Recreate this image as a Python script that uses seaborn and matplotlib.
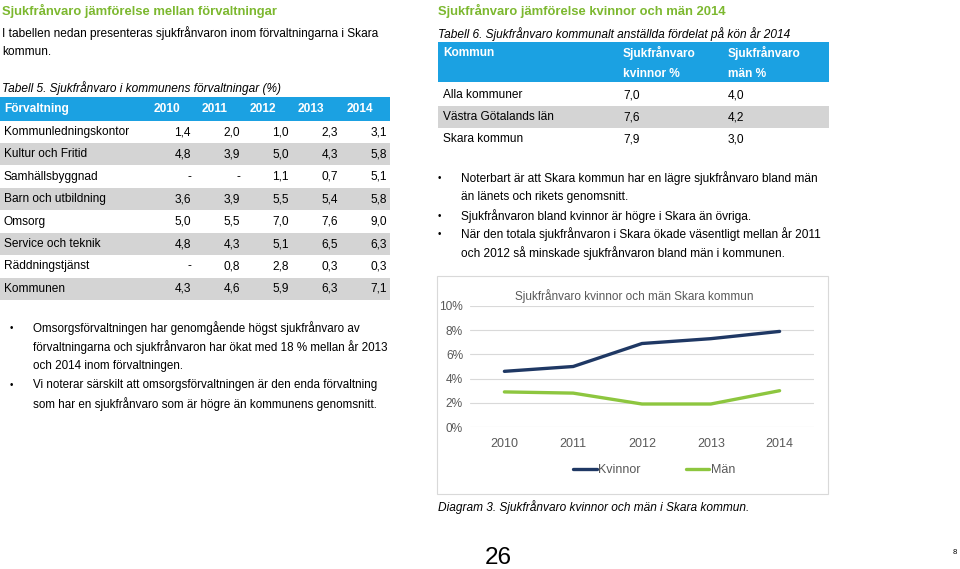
import pandas as pd
import matplotlib.pyplot as plt
from matplotlib.patches import Rectangle
import seaborn as sns

sns.set_theme(style='white')
plt.rcParams['font.family'] = ['Liberation Sans', 'DejaVu Sans']

# colours
GREEN = '#7cb82f'
BLUE = '#1ba1e2'
BAND = '#d4d4d4'
NAVY = '#1f3864'
LIME = '#8dc63f'
AXIS_TXT = '#595959'

# Tabell 5
years = [2010, 2011, 2012, 2013, 2014]
departments = ['Kommunledningskontor', 'Kultur och Fritid', 'Samhällsbyggnad',
               'Barn och utbildning', 'Omsorg', 'Service och teknik',
               'Räddningstjänst', 'Kommunen']
dept_values = [
    [1.4, 2.0, 1.0, 2.3, 3.1],
    [4.8, 3.9, 5.0, 4.3, 5.8],
    [None, None, 1.1, 0.7, 5.1],
    [3.6, 3.9, 5.5, 5.4, 5.8],
    [5.0, 5.5, 7.0, 7.6, 9.0],
    [4.8, 4.3, 5.1, 6.5, 6.3],
    [None, 0.8, 2.8, 0.3, 0.3],
    [4.3, 4.6, 5.9, 6.3, 7.1],
]

# Tabell 6
regions = ['Alla kommuner', 'Västra Götalands län', 'Skara kommun']
women_2014 = [7.0, 7.6, 7.9]
men_2014 = [4.0, 4.2, 3.0]

# Diagram 3
chart_years = [2010, 2011, 2012, 2013, 2014]
kvinnor = [4.6, 5.0, 6.9, 7.3, 7.9]
man = [2.9, 2.8, 1.9, 1.9, 3.0]

left_bullets = [
    ['Omsorgsförvaltningen har genomgående högst sjukfrånvaro av',
     'förvaltningarna och sjukfrånvaron har ökat med 18 % mellan år 2013',
     'och 2014 inom förvaltningen.'],
    ['Vi noterar särskilt att omsorgsförvaltningen är den enda förvaltning',
     'som har en sjukfrånvaro som är högre än kommunens genomsnitt.'],
]
right_bullets = [
    ['Noterbart är att Skara kommun har en lägre sjukfrånvaro bland män',
     'än länets och rikets genomsnitt.'],
    ['Sjukfrånvaron bland kvinnor är högre i Skara än övriga.'],
    ['När den totala sjukfrånvaron i Skara ökade väsentligt mellan år 2011',
     'och 2012 så minskade sjukfrånvaron bland män i kommunen.'],
]


def fmt(v):
    return '-' if v is None else f'{v:.1f}'.replace('.', ',')


fig = plt.figure(figsize=(9.6, 5.69), dpi=100)
page = fig.add_axes([0, 0, 1, 1])
page.set_xlim(0, 960)
page.set_ylim(569, 0)
page.axis('off')

FS = 8.6


def txt(x, y, s, **kw):
    kw.setdefault('fontsize', FS)
    kw.setdefault('va', 'center')
    kw.setdefault('color', 'black')
    page.text(x, y, s, **kw)


def bullets(x, y, groups, step=19.2, fs=FS):
    for g in groups:
        txt(x, y, '•', fontsize=7)
        for line in g:
            txt(x + 23, y, line, fontsize=fs)
            y += step


# ---- left column ----
txt(2, 11, 'Sjukfrånvaro jämförelse mellan förvaltningar', color=GREEN,
    fontweight='bold', fontsize=9.4)
txt(2, 33, 'I tabellen nedan presenteras sjukfrånvaron inom förvaltningarna i Skara')
txt(2, 52, 'kommun.')
txt(2, 88, 'Tabell 5. Sjukfrånvaro i kommunens förvaltningar (%)', style='italic')

page.add_patch(Rectangle((0, 97), 390, 24, color=BLUE, lw=0))
txt(4, 109, 'Förvaltning', color='white', fontweight='bold')
year_centres = [167, 215, 263, 311, 360]
for xc, yr in zip(year_centres, years):
    txt(xc, 109, str(yr), color='white', fontweight='bold', ha='center')

right_edges = [191, 240, 289, 338, 387]
row_y = 132
for i, (name, vals) in enumerate(zip(departments, dept_values)):
    if i % 2 == 1:
        page.add_patch(Rectangle((0, row_y - 11), 390, 22, color=BAND, lw=0))
    txt(4, row_y, name)
    for xr, v in zip(right_edges, vals):
        txt(xr, row_y, fmt(v), ha='right')
    row_y += 22.4

bullets(10, 328, left_bullets, step=19, fs=8.4)

# ---- right column ----
txt(438, 11, 'Sjukfrånvaro jämförelse kvinnor och män 2014', color=GREEN,
    fontweight='bold', fontsize=9.4)
txt(438, 34, 'Tabell 6. Sjukfrånvaro kommunalt anställda fördelat på kön år 2014',
    style='italic')
page.add_patch(Rectangle((438, 42), 391, 40, color=BLUE, lw=0))
txt(443, 53, 'Kommun', color='white', fontweight='bold')
txt(623, 53, 'Sjukfrånvaro', color='white', fontweight='bold')
txt(623, 74, 'kvinnor %', color='white', fontweight='bold')
txt(728, 53, 'Sjukfrånvaro', color='white', fontweight='bold')
txt(728, 74, 'män %', color='white', fontweight='bold')
ry = 95
for i, (reg, w, m) in enumerate(zip(regions, women_2014, men_2014)):
    if i % 2 == 1:
        page.add_patch(Rectangle((438, ry - 11), 391, 22, color=BAND, lw=0))
    txt(443, ry, reg)
    txt(623, ry, fmt(w))
    txt(728, ry, fmt(m))
    ry += 22

bullets(438, 178, right_bullets, step=18.8)

# chart frame and title
page.add_patch(Rectangle((437, 276), 391, 218, fill=False, ec='#d9d9d9', lw=0.8))
txt(634, 296, 'Sjukfrånvaro kvinnor och män Skara kommun', color=AXIS_TXT,
    ha='center', fontsize=8.5)

df = pd.DataFrame({
    'år': chart_years * 2,
    'värde': kvinnor + man,
    'kön': ['Kvinnor'] * len(kvinnor) + ['Män'] * len(man),
})

ax = fig.add_axes([470 / 960, (569 - 427) / 569, 344 / 960, 121 / 569])
sns.lineplot(data=df, x='år', y='värde', hue='kön',
             palette={'Kvinnor': NAVY, 'Män': LIME}, lw=2.4, ax=ax)
ax.set_xlim(2009.5, 2014.5)
ax.set_ylim(0, 10)
ax.set_xticks(chart_years)
ax.set_yticks(range(0, 11, 2))
ax.set_yticklabels([f'{v}%' for v in range(0, 11, 2)])
ax.set_xlabel('')
ax.set_ylabel('')
ax.tick_params(axis='both', length=0, labelsize=9, labelcolor=AXIS_TXT)
ax.tick_params(axis='y', labelsize=8.6, pad=5)
ax.tick_params(axis='x', pad=8)
ax.grid(axis='y', color='#d9d9d9', lw=0.8)
ax.set_axisbelow(True)
for s in ax.spines.values():
    s.set_visible(False)
ax.patch.set_alpha(0)
leg = ax.legend(loc='center', bbox_to_anchor=(0.535, -0.355), ncol=2, frameon=False,
                fontsize=9, handlelength=1.9, handletextpad=0.1, columnspacing=3.6)
for t in leg.get_texts():
    t.set_color(AXIS_TXT)

txt(438, 507, 'Diagram 3. Sjukfrånvaro kvinnor och män i Skara kommun.', style='italic')

# page numbers
txt(498, 558, '26', fontsize=17.5, ha='center')
txt(955, 552, '8', fontsize=5.5, ha='center')

fig.savefig('out.png', dpi=100)
